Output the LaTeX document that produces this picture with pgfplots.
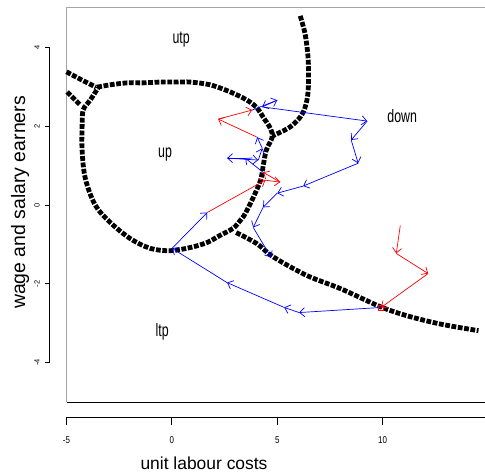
\documentclass[border=0pt]{standalone}
\usepackage{fontspec}
\setmainfont{Liberation Sans}
\usepackage{graphicx}
\usepackage{pgfplots}
\pgfplotsset{compat=1.18}
\usetikzlibrary{arrows.meta}

\pgfplotsset{
  curve/.style={black, line width=4.8bp, dash pattern=on 4.8bp off 1.6bp, smooth, tension=0.55, no markers},
  traj/.style={line width=0.7bp, -{Straight Barb[length=5bp,width=9bp]},
    quiver={u=\thisrow{xe}-\thisrow{x}, v=\thisrow{ye}-\thisrow{y}}},
}

\begin{document}
\begin{tikzpicture}
\useasboundingbox (-66.5bp,-73bp) rectangle (418.5bp,402bp);
\begin{axis}[at={(0,0)}, anchor=south west, scale only axis,
  width=418.5bp, height=394bp,
  xmin=-5, xmax=14.86, ymin=-5, ymax=5,
  hide axis, clip=false]

% frame (R style)
\draw[gray!70, line width=1bp] (axis cs:-5,-5) -- (axis cs:-5,5) -- (axis cs:14.86,5);
\draw[black, line width=1bp] (axis cs:-5,-5) -- (axis cs:14.86,-5);
% x axis
\draw[line width=0.9bp] ([yshift=-15.3bp]axis cs:-5,-5) -- ([yshift=-15.3bp]axis cs:14.86,-5);
\pgfplotsinvokeforeach{-5,0,5,10}{
  \draw[line width=0.9bp] ([yshift=-15.3bp]axis cs:#1,-5) -- ([yshift=-23bp]axis cs:#1,-5);
  \node[font=\fontsize{10}{10}\selectfont] at ([yshift=-38bp]axis cs:#1,-5) {\scalebox{0.8}[1]{#1}};
}
% y axis
\draw[line width=0.9bp] ([xshift=-17.2bp]axis cs:-5,-4) -- ([xshift=-17.2bp]axis cs:-5,4);
\pgfplotsinvokeforeach{-4,-2,0,2,4}{
  \draw[line width=0.9bp] ([xshift=-17.2bp]axis cs:-5,#1) -- ([xshift=-21.5bp]axis cs:-5,#1);
  \node[font=\fontsize{7.5}{7.5}\selectfont, rotate=90] at ([xshift=-29.5bp]axis cs:-5,#1) {#1};
}

% black curves
\addplot[curve] coordinates {(-5.0,3.38) (-4.3,3.18) (-3.6,2.99)};
\addplot[curve] coordinates {(-4.97,2.87) (-4.35,2.54)};
\addplot[curve] coordinates {
 (-3.54,2.99) (-2.93,3.05) (-2.12,3.10) (-1.36,3.10) (-0.56,3.12) (0.30,3.12)
 (0.87,3.12) (1.82,3.05) (2.77,2.87) (3.57,2.66) (4.05,2.46) (4.33,2.23)
 (4.67,1.95) (4.76,1.72) (4.48,1.39) (4.34,1.01) (4.21,0.63) (3.87,0.20)
 (3.49,-0.21) (3.25,-0.39) (2.91,-0.59) (2.29,-0.77) (1.68,-0.95) (0.87,-1.08)
 (-0.08,-1.16) (-1.03,-1.10) (-1.98,-0.85) (-2.93,-0.44) (-3.64,0.0) (-4.11,0.68)
 (-4.26,1.39) (-4.26,1.98) (-4.21,2.41) (-3.88,2.66) (-3.50,2.97)};
\addplot[curve] coordinates {
 (6.09,4.80) (6.33,4.32) (6.47,3.68) (6.47,2.92) (6.33,2.49) (6.09,2.23)
 (5.61,1.98) (5.04,1.82) (4.76,1.75)};
\addplot[curve] coordinates {
 (3.05,-0.70) (4.03,-0.98) (4.82,-1.32) (6.41,-1.79) (7.99,-2.12) (9.89,-2.58)
 (11.15,-2.81) (12.73,-3.02) (14.55,-3.19)};

% trajectories
\addplot[traj, red] table {
x y xe ye
10.84 -0.52 10.65 -1.23
10.65 -1.23 12.16 -1.74
12.16 -1.74 9.93 -2.60
1.68 -0.19 4.43 0.63
4.43 0.63 5.14 0.58
5.14 0.58 4.33 0.83
4.05 1.72 2.20 2.18
2.20 2.18 3.81 2.41
};
\addplot[traj, blue] table {
x y xe ye
9.93 -2.60 6.04 -2.73
6.04 -2.73 5.33 -2.60
5.33 -2.60 2.62 -1.97
2.62 -1.97 0.01 -1.10
0.01 -1.10 1.68 -0.19
4.33 0.83 3.48 1.19
3.48 1.19 2.62 1.19
2.62 1.19 4.10 1.14
4.10 1.14 4.29 1.44
4.29 1.44 4.05 1.72
3.81 2.41 5.00 2.66
5.00 2.66 4.29 2.49
4.29 2.49 9.27 2.13
9.27 2.13 8.51 1.65
8.51 1.65 8.84 1.06
8.84 1.06 6.23 0.48
6.23 0.48 5.00 0.30
5.00 0.30 4.33 -0.06
4.33 -0.06 3.86 -0.57
3.86 -0.57 4.71 -1.33
};
\addplot[only marks, mark=square, red, mark size=2.5bp, line width=0.8bp] coordinates {(9.93,-2.60)};

% region labels
\node[font=\fontsize{18}{18}\selectfont] at (axis cs:0.44,4.19) {\scalebox{0.69}[1]{utp}};
\node[font=\fontsize{18}{18}\selectfont] at (axis cs:-0.32,1.29) {\scalebox{0.69}[1]{up}};
\node[font=\fontsize{18}{18}\selectfont] at (axis cs:10.93,2.25) {\scalebox{0.69}[1]{down}};
\node[font=\fontsize{18}{18}\selectfont] at (axis cs:-0.46,-3.21) {\scalebox{0.69}[1]{ltp}};
\end{axis}
\node[font=\fontsize{17.5}{17.5}\selectfont] at (137.5bp,-61bp) {unit labour costs};
\node[font=\fontsize{19.5}{19.5}\selectfont, rotate=90] at (-46.5bp,199.5bp) {wage and salary earners};
\end{tikzpicture}
\end{document}
